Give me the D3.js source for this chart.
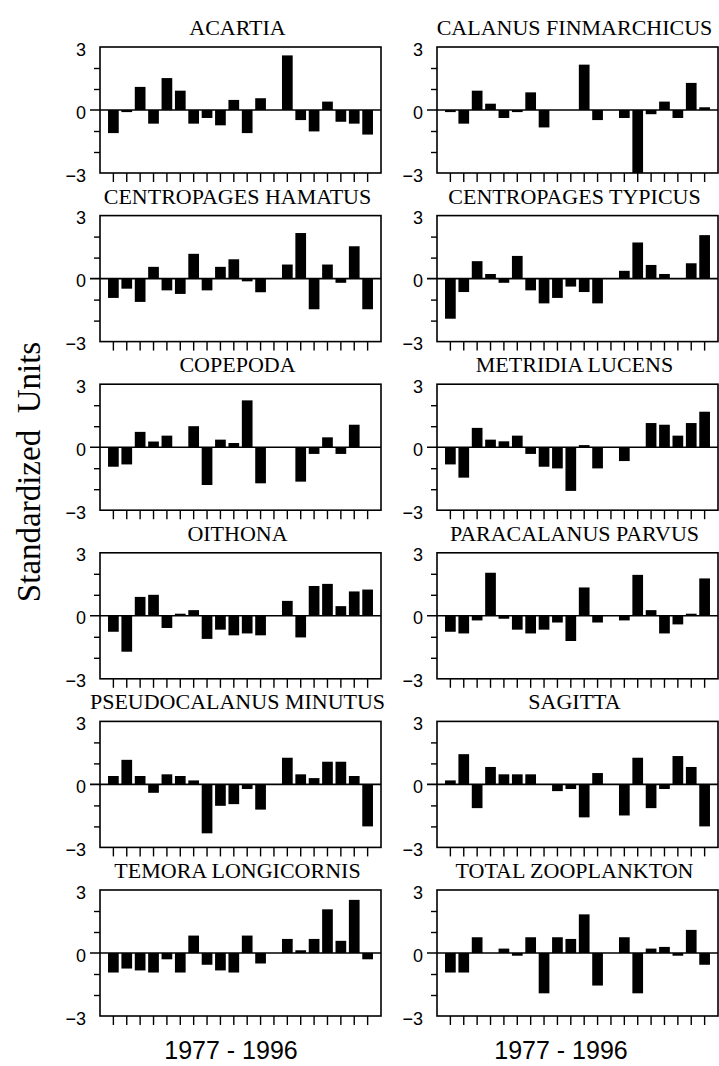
<!DOCTYPE html>
<html>
<head>
<meta charset="utf-8">
<script src="https://cdn.jsdelivr.net/npm/d3@7"></script>
<style>
  html, body { margin: 0; padding: 0; background: #fff; }
  svg { display: block; }
</style>
</head>
<body>
<svg id="chart" width="719" height="1066"></svg>
<script>
// Annual standardized anomalies, 1977-1996
const years = [1977, 1978, 1979, 1980, 1981, 1982, 1983, 1984, 1985, 1986,
               1987, 1988, 1989, 1990, 1991, 1992, 1993, 1994, 1995, 1996];

const species = [
  "ACARTIA", "CALANUS FINMARCHICUS",
  "CENTROPAGES HAMATUS", "CENTROPAGES TYPICUS",
  "COPEPODA", "METRIDIA LUCENS",
  "OITHONA", "PARACALANUS PARVUS",
  "PSEUDOCALANUS MINUTUS", "SAGITTA",
  "TEMORA LONGICORNIS", "TOTAL ZOOPLANKTON"
];

const acartia       = [-1.1, -0.1, 1.1, -0.65, 1.52, 0.92, -0.65, -0.38, -0.73, 0.48, -1.1, 0.56, 0, 2.6, -0.48, -1.02, 0.4, -0.56, -0.65, -1.17];
const calanusFin    = [-0.1, -0.65, 0.92, 0.3, -0.38, -0.1, 0.84, -0.83, 0, 0, 2.16, -0.48, 0, -0.38, -3.0, -0.2, 0.4, -0.38, 1.29, 0.13];
const centroHamatus = [-0.92, -0.48, -1.11, 0.56, -0.56, -0.73, 1.18, -0.56, 0.56, 0.92, -0.13, -0.65, 0, 0.67, 2.17, -1.46, 0.67, -0.2, 1.54, -1.46];
const centroTypicus = [-1.91, -0.64, 0.83, 0.22, -0.2, 1.08, -0.56, -1.18, -0.92, -0.38, -0.64, -1.18, 0, 0.37, 1.72, 0.65, 0.22, 0, 0.73, 2.07];
const copepoda      = [-0.93, -0.82, 0.73, 0.27, 0.55, 0, 1.0, -1.8, 0.36, 0.2, 2.23, -1.72, 0, 0, -1.64, -0.32, 0.47, -0.32, 1.07, 0];
const metridia      = [-0.82, -1.45, 0.92, 0.36, 0.28, 0.55, -0.32, -0.93, -1.01, -2.08, 0.1, -1.01, 0, -0.66, 0, 1.15, 1.07, 0.55, 1.15, 1.69];
const oithona       = [-0.76, -1.71, 0.9, 1.0, -0.58, 0.1, 0.27, -1.1, -0.66, -0.93, -0.84, -0.93, 0, 0.71, -1.03, 1.42, 1.52, 0.46, 1.16, 1.25];
const paracalanus   = [-0.76, -0.84, -0.22, 2.05, -0.14, -0.66, -0.84, -0.66, -0.32, -1.2, 1.35, -0.32, 0, -0.22, 1.95, 0.27, -0.84, -0.41, 0.1, 1.78];
const pseudocal     = [0.4, 1.17, 0.4, -0.4, 0.48, 0.4, 0.19, -2.33, -1.02, -0.94, -0.22, -1.2, 0, 1.27, 0.48, 0.3, 1.08, 1.08, 0.4, -2.0];
const sagitta       = [0.19, 1.44, -1.13, 0.83, 0.48, 0.48, 0.48, 0, -0.32, -0.22, -1.57, 0.54, 0, -1.48, 1.27, -1.13, -0.22, 1.35, 0.83, -2.0];
const temora        = [-0.93, -0.74, -0.83, -0.93, -0.3, -0.93, 0.83, -0.56, -0.83, -0.93, 0.83, -0.5, 0, 0.67, 0.13, 0.67, 2.08, 0.58, 2.53, -0.3];
const totalZoo      = [-0.93, -0.93, 0.75, 0, 0.21, -0.13, 0.75, -1.92, 0.75, 0.67, 1.84, -1.55, 0, 0.75, -1.92, 0.21, 0.29, -0.13, 1.1, -0.56];

const seriesList = [acartia, calanusFin, centroHamatus, centroTypicus, copepoda, metridia,
                    oithona, paracalanus, pseudocal, sagitta, temora, totalZoo];

const yLabelTicks = [3, 0, -3];
const yMinorTicks = [2, 1, -1, -2];
const yDomain = [-3, 3];
const yTitle = "Standardized  Units";
const xTitle = "1977 - 1996";

// ---- layout ----
const svg = d3.select("#chart");
const panelW = 281, panelH = 126;
const colX = [100, 437];
const rowY0 = 47, rowStep = 168.6;

const serif = "'Liberation Serif', 'Times New Roman', serif";
const sans = "'Liberation Sans', Arial, sans-serif";

species.forEach((name, idx) => {
  const col = idx % 2, row = Math.floor(idx / 2);
  const x0 = colX[col], y0 = rowY0 + row * rowStep;
  const values = seriesList[idx];

  const g = svg.append("g").attr("transform", `translate(${x0},${y0})`);

  const x = d3.scaleBand().domain(years).range([0, panelW])
    .paddingInner(0.2).paddingOuter(0.6);
  const y = d3.scaleLinear().domain(yDomain).range([panelH, 0]);

  // bars
  g.selectAll("rect.bar").data(values).join("rect")
    .attr("class", "bar")
    .attr("x", (d, i) => x(years[i]))
    .attr("width", x.bandwidth())
    .attr("y", d => y(Math.max(0, d)))
    .attr("height", d => Math.abs(y(d) - y(0)))
    .attr("fill", "#000");

  // zero line, extending left past the frame
  g.append("line")
    .attr("x1", -10).attr("x2", panelW)
    .attr("y1", y(0)).attr("y2", y(0))
    .attr("stroke", "#000").attr("stroke-width", 1.6);

  // frame
  g.append("rect")
    .attr("x", 0).attr("y", 0).attr("width", panelW).attr("height", panelH)
    .attr("fill", "none").attr("stroke", "#000").attr("stroke-width", 1.6);

  // bottom year ticks
  const xAxis = g.append("g").attr("transform", `translate(0,${panelH})`)
    .call(d3.axisBottom(x).tickSize(9).tickSizeOuter(0).tickFormat(""));
  xAxis.select(".domain").remove();
  xAxis.selectAll(".tick line").attr("stroke", "#000").attr("stroke-width", 1.4);

  // left minor ticks
  const yAxis = g.append("g")
    .call(d3.axisLeft(y).tickValues(yMinorTicks).tickSize(6).tickFormat(""));
  yAxis.select(".domain").remove();
  yAxis.selectAll(".tick line").attr("stroke", "#000").attr("stroke-width", 1.4);

  // labelled ticks
  const yLab = g.append("g")
    .call(d3.axisLeft(y).tickValues(yLabelTicks).tickSize(0).tickPadding(14).tickFormat(d3.format("d")));
  yLab.select(".domain").remove();
  yLab.selectAll(".tick text")
    .attr("font-family", sans).attr("font-size", 18).attr("fill", "#000")
    .attr("dy", "0.45em");

  // panel title
  g.append("text")
    .attr("x", panelW / 2 - 3).attr("y", -12)
    .attr("text-anchor", "middle")
    .attr("font-family", serif).attr("font-size", 22)
    .attr("fill", "#000")
    .text(name);
});

// shared y title
svg.append("text")
  .attr("transform", "translate(40,472) rotate(-90)")
  .attr("text-anchor", "middle")
  .attr("font-family", serif).attr("font-size", 33)
  .style("white-space", "pre")
  .attr("fill", "#000")
  .text(yTitle);

// x titles under each column
[231, 561].forEach(cx => {
  svg.append("text")
    .attr("x", cx).attr("y", 1059)
    .attr("text-anchor", "middle")
    .attr("font-family", sans).attr("font-size", 25)
    .attr("fill", "#000")
    .text(xTitle);
});
</script>
</body>
</html>
